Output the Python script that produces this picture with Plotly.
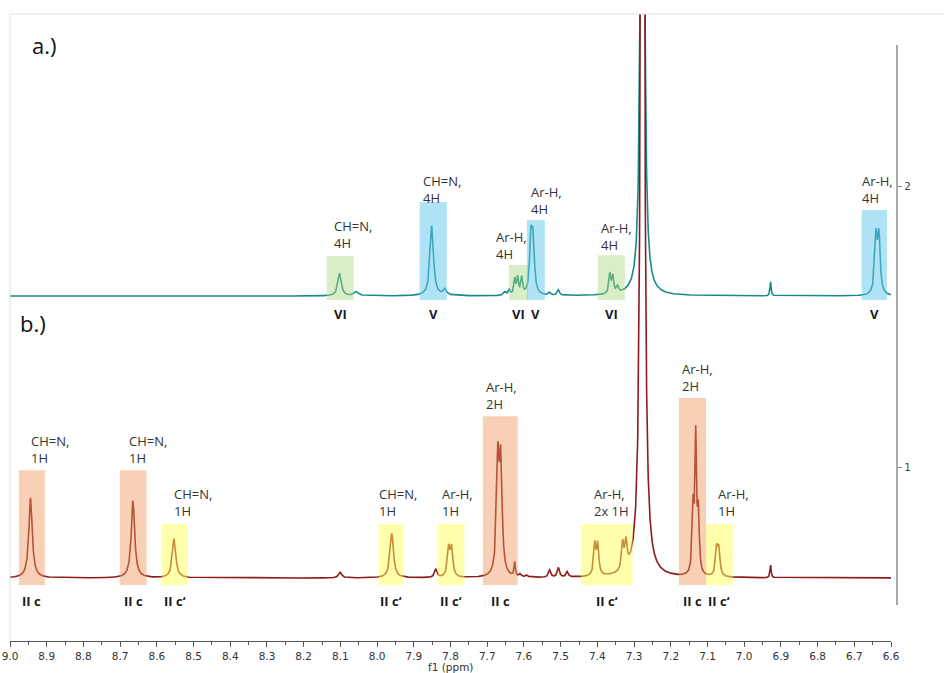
import numpy as np
import plotly.graph_objects as go

# ---------------- data ----------------
# Spectrum a.) (teal): peak position (ppm), peak height (axis units above baseline), half width (ppm)
a_baseline = 1.6085
a_ppm    = [8.102, 8.056, 7.851, 7.815, 7.652, 7.640, 7.625, 7.617, 7.606, 7.581, 7.575,
            7.530, 7.506, 7.366, 7.358, 7.345, 7.277, 6.928, 6.641, 6.633]
a_height = [0.080, 0.015, 0.250, 0.022, 0.012, 0.018, 0.055, 0.060, 0.060, 0.190, 0.185,
            0.010, 0.020, 0.070, 0.060, 0.022, 10.0, 0.050, 0.200, 0.200]
a_width  = [0.0055, 0.0070, 0.0055, 0.0050, 0.0040, 0.0030, 0.0028, 0.0028, 0.0028, 0.0040, 0.0040,
            0.0035, 0.0035, 0.0030, 0.0030, 0.0035, 0.0024, 0.0018, 0.0040, 0.0040]

# Spectrum b.) (dark red)
b_baseline = 0.605
b_ppm    = [8.944, 8.665, 8.553, 8.100, 7.960, 7.840, 7.805, 7.797, 7.671, 7.663,
            7.625, 7.610, 7.592, 7.530, 7.506, 7.482, 7.407, 7.399, 7.331, 7.322,
            7.277, 7.139, 7.132, 7.125, 7.075, 7.069, 6.928]
b_height = [0.285, 0.275, 0.140, 0.020, 0.158, 0.030, 0.100, 0.098, 0.400, 0.385,
            0.050, 0.010, 0.008, 0.026, 0.034, 0.020, 0.110, 0.108, 0.095, 0.090,
            10.0, 0.230, 0.470, 0.210, 0.095, 0.092, 0.045]
b_width  = [0.0055, 0.0055, 0.0055, 0.0050, 0.0055, 0.0040, 0.0040, 0.0040, 0.0042, 0.0042,
            0.0020, 0.0030, 0.0030, 0.0035, 0.0035, 0.0035, 0.0035, 0.0035, 0.0035, 0.0035,
            0.0030, 0.0030, 0.0025, 0.0030, 0.0035, 0.0035, 0.0018]

# Highlight boxes: left ppm, right ppm, top (axis units), kind, group label, text label
a_box_left  = [8.137, 7.884, 7.641, 7.592, 7.399, 6.680]
a_box_right = [8.064, 7.810, 7.589, 7.543, 7.325, 6.611]
a_box_top   = [1.751, 1.943, 1.719, 1.879, 1.754, 1.915]
a_box_kind  = ["VI", "V", "VI", "V", "VI", "V"]
a_box_text  = ["CH=N,<br>4H", "CH=N,<br>4H", "Ar-H,<br>4H", "Ar-H,<br>4H", "Ar-H,<br>4H", "Ar-H,<br>4H"]
a_text_x    = [8.124, 7.881, 7.682, 7.587, 7.396, 6.685]
a_text_y    = [1.829, 1.986, 1.790, 1.948, 1.822, 1.986]
a_box_bottom = 1.594
a_group_y = 1.5445

b_box_left  = [8.976, 8.701, 8.587, 7.996, 7.835, 7.712, 7.445, 7.178, 7.104]
b_box_right = [8.905, 8.628, 8.516, 7.928, 7.762, 7.617, 7.304, 7.104, 7.031]
b_box_top   = [0.989, 0.989, 0.797, 0.797, 0.797, 1.181, 0.797, 1.246, 0.797]
b_box_kind  = ["II c", "II c", "II c‘", "II c‘", "II c‘", "II c", "II c‘", "II c", "II c‘"]
b_box_text  = ["CH=N,<br>1H", "CH=N,<br>1H", "CH=N,<br>1H", "CH=N,<br>1H", "Ar-H,<br>1H",
               "Ar-H,<br>2H", "Ar-H,<br>2x 1H", "Ar-H,<br>2H", "Ar-H,<br>1H"]
b_text_x    = [8.949, 8.682, 8.559, 8.001, 7.829, 7.709, 7.415, 7.175, 7.077]
b_text_y    = [1.064, 1.064, 0.874, 0.874, 0.874, 1.254, 0.874, 1.320, 0.874]
b_box_bottom = 0.580
b_group_y = 0.523

x_ticks = [round(9.0 - 0.1 * i, 1) for i in range(25)]
y_ticks = [1, 2]

box_colors = {
    "V": "rgba(100,200,240,0.5)",
    "VI": "rgba(170,215,130,0.45)",
    "II c": "rgba(240,150,90,0.45)",
    "II c‘": "rgba(255,255,90,0.5)",
}

# ---------------- build spectra from the peak lists ----------------
ppm = np.arange(6.55, 9.05, 0.0004)


def spectrum(base, pos, hts, wds):
    y = np.full_like(ppm, base)
    for p, h, w in zip(pos, hts, wds):
        y += h * w ** 2 / ((ppm - p) ** 2 + w ** 2)
    return y


ya = spectrum(a_baseline, a_ppm, a_height, a_width)
yb = spectrum(b_baseline, b_ppm, b_height, b_width)

fig = go.Figure()
fig.add_trace(go.Scatter(x=ppm, y=ya, mode="lines", line=dict(color="#178a8a", width=1.6),
                         hoverinfo="skip", showlegend=False))
fig.add_trace(go.Scatter(x=ppm, y=yb, mode="lines", line=dict(color="#8e1b1b", width=1.6),
                         hoverinfo="skip", showlegend=False))

shapes = []
annotations = []
label_font = dict(family="Open Sans, DejaVu Sans, sans-serif", size=13, color="#333333")
group_font = dict(family="Open Sans, DejaVu Sans, sans-serif", size=13, color="#1a1a1a")


def add_boxes(lefts, rights, tops, kinds, texts, tx, ty, bottom, gy):
    for l, r, t, k, s, x, y in zip(lefts, rights, tops, kinds, texts, tx, ty):
        shapes.append(dict(type="rect", xref="x", yref="y", x0=l, x1=r, y0=bottom, y1=t,
                           fillcolor=box_colors[k], line=dict(width=0), layer="above"))
        annotations.append(dict(x=x, y=y, xref="x", yref="y", text=s, showarrow=False,
                                xanchor="left", yanchor="middle", align="left", font=label_font))
        annotations.append(dict(x=(l + r) / 2, y=gy, xref="x", yref="y", text="<b>%s</b>" % k,
                                showarrow=False, xanchor="center", yanchor="middle",
                                font=group_font))


add_boxes(a_box_left, a_box_right, a_box_top, a_box_kind, a_box_text, a_text_x, a_text_y,
          a_box_bottom, a_group_y)
add_boxes(b_box_left, b_box_right, b_box_top, b_box_kind, b_box_text, b_text_x, b_text_y,
          b_box_bottom, b_group_y)

# right intensity axis line (shorter than the plot)
shapes.append(dict(type="line", xref="paper", yref="y", x0=0.9922, x1=0.9922, y0=0.509, y1=2.502,
                   line=dict(color="#a8a8a8", width=2)))
# light frame on top and left
shapes.append(dict(type="line", xref="paper", yref="paper", x0=0, x1=1.06, y0=1, y1=1,
                   line=dict(color="#e2e2e2", width=1)))
shapes.append(dict(type="line", xref="paper", yref="paper", x0=0, x1=0, y0=0, y1=1,
                   line=dict(color="#e2e2e2", width=1)))

annotations.append(dict(x=8.946, y=2.502, xref="x", yref="y", text="a.)", showarrow=False,
                        xanchor="left", yanchor="middle",
                        font=dict(family="Open Sans, DejaVu Sans, sans-serif", size=22, color="#111111")))
annotations.append(dict(x=8.979, y=1.512, xref="x", yref="y", text="b.)", showarrow=False,
                        xanchor="left", yanchor="middle",
                        font=dict(family="Open Sans, DejaVu Sans, sans-serif", size=22, color="#111111")))
annotations.append(dict(x=7.80, y=-0.042, xref="x", yref="paper", text="f1 (ppm)", showarrow=False,
                        xanchor="center", yanchor="middle",
                        font=dict(family="DejaVu Sans, sans-serif", size=10.5, color="#333333")))

fig.update_layout(
    width=944, height=673,
    margin=dict(l=10, r=40, t=14, b=32, autoexpand=False),
    paper_bgcolor="white", plot_bgcolor="white",
    shapes=shapes, annotations=annotations,
    xaxis=dict(range=[9.0, 6.6], domain=[0, 0.9855], tickvals=x_ticks,
               ticktext=["%.1f" % v for v in x_ticks], automargin=False,
               showgrid=False, zeroline=False, showline=True, linecolor="#555555", linewidth=1,
               ticks="outside", ticklen=5, tickcolor="#555555",
               minor=dict(ticks="outside", ticklen=3, dtick=0.05, tick0=6.6, tickcolor="#555555"),
               tickfont=dict(family="DejaVu Sans, sans-serif", size=10.5, color="#333333")),
    yaxis=dict(range=[0.381, 2.612], anchor="free", position=0.9922, side="right",
               tickvals=y_ticks, ticktext=[str(v) for v in y_ticks], automargin=False,
               showgrid=False, zeroline=False, showline=False,
               ticks="outside", ticklen=4, tickcolor="#888888",
               tickfont=dict(family="DejaVu Sans, sans-serif", size=10.5, color="#444444")),
)

fig.write_html("out.html", config={"displayModeBar": False},
               post_script="document.body.style.margin='0';document.body.style.overflow='hidden';")
